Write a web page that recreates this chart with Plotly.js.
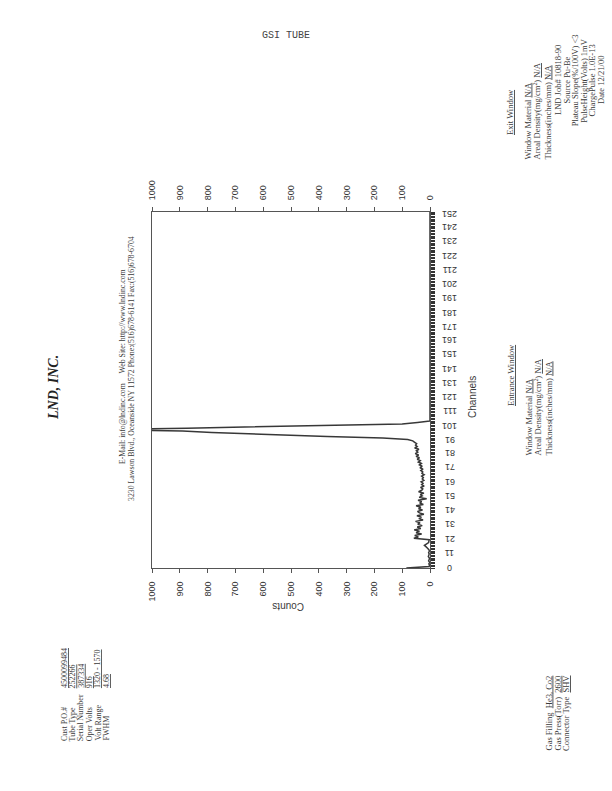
<!DOCTYPE html>
<html>
<head>
<meta charset="utf-8">
<script src="https://cdn.plot.ly/plotly-3.0.1.min.js"></script>
<style>
html,body{margin:0;padding:0;background:#fff;}
#chart{width:612px;height:791px;}
</style>
</head>
<body>
<div id="chart"></div>
<script>
// ---- data (counts per channel) ----
const counts = [
  85,
  3,2,4,1,5,3,2,6,4,3,5,2,4,8,14,20,10,5,4,3,
  58,
  42,55,30,50,38,57,33,46,28,44,
  36,52,25,40,31,47,22,38,45,27,
  41,33,50,24,37,30,43,12,39,28,
  35,22,41,30,26,34,21,30,25,32,
  22,28,24,30,21,29,26,33,25,36,
  28,38,31,42,35,46,38,50,41,53,
  44,49,40,55,46,52,48,55,62,
  80,170,370,520,640,785,890,1200,
  875,637,390,100,45,0,
  0,0,0,0,0,0,0,0,0,0,0,0,0,0,0,0,
  0,0,0,0,0,0,0,0,0,0,0,0,0,0,0,0,
  0,0,0,0,0,0,0,0,0,0,0,0,0,0,0,0,
  0,0,0,0,0,0,0,0,0,0,0,0,0,0,0,0,
  0,0,0,0,0,0,0,0,0,0,0,0,0,0,0,0,
  0,0,0,0,0,0,0,0,0,0,0,0,0,0,0,0,
  0,0,0,0,0,0,0,0,0,0,0,0,0,0,0,0,
  0,0,0,0,0,0,0,0,0,0,0,0,0,0,0,0,
  0,0,0,0,0,0,0,0,0,0,0,0,0,0,0,0,
  0,0,0,0,0,0,0
];
const channels = counts.map((_, i) => i);

const channelTickLabels = ['0','11','21','31','41','51','61','71','81','91','101','111','121','131','141','151','161','171','181','191','201','211','221','231','241','251'];
const countTickValues = [0,100,200,300,400,500,600,700,800,900,1000];

const titleText = 'LND, INC.';
const contactLines = [
  'E-Mail: info@lndinc.com&nbsp;&nbsp;&nbsp;&nbsp;&nbsp;Web Site: http://www.lndinc.com',
  '3230 Lawson Blvd., Oceanside NY 11572 Phone:(516)678-6141 Fax:(516)678-6704'
];
const custLabels = ['Cust P.O.#','Tube Type','Serial Number','Oper Volts','Volt Range','FWHM'];
const custValues = ['4500099484','252266','387334','916','1320 - 1570','4.68'];
const gasLabels = ['Gas Filling','Gas Press(Torr)','Connector Type'];
const gasValues = ['He3, Co2','2600','SHV'];
const windowLabels = ['Window Material','Areal Density(mg/cm<sup>2</sup>)','Thickness(inches/mm)'];
const entranceValues = ['N/A','N/A','N/A'];
const exitValues = ['N/A','N/A','N/A'];
const jobLines = ['LND Job# 10818-90','Source Pu-Be','Plateau Slope(%/100V) <3','PulseHeight(Volts) 1mV','ChargePulse 1.0E-13','Date 12/21/00'];

// ---- layout helpers (pixel -> paper) ----
const L = 152, R = 430, T = 212, B = 568;
const px = x => (x - L) / (R - L);
const py = y => (B - y) / (B - T);
const serif = 'Liberation Serif, Times New Roman, serif';
const sans = 'Liberation Sans, Arial, sans-serif';
const ink = '#3a3a3a';
const U = s => '<span style="text-decoration:underline">' + s + '</span>';

function note(text, x, y, o) {
  o = o || {};
  return {
    text: text, xref: 'paper', yref: 'paper', x: px(x), y: py(y),
    showarrow: false, textangle: o.angle !== undefined ? o.angle : -90,
    xanchor: o.xa || 'center', yanchor: o.ya || 'middle',
    font: {family: o.family || serif, size: o.size || 8.5, color: o.color || ink}
  };
}

const ann = [];
ann.push(note('GSI TUBE', 286, 36, {angle: 0, family: 'Liberation Mono, Courier New, monospace', size: 10, color: '#444'}));
ann.push(note('<b><i>' + titleText + '</i></b>', 53, 388, {size: 14, color: '#222'}));
ann.push(note(contactLines[0], 122, 367, {size: 7.8}));
ann.push(note(contactLines[1], 131, 369, {size: 7.8}));
custLabels.forEach((t, i) => {
  const x = 64 + i * 8.4;
  ann.push(note(t, x, 743, {ya: 'bottom', size: 8}));
  ann.push(note(U(custValues[i]), x, 690, {ya: 'bottom', size: 8}));
});
gasLabels.forEach((t, i) => {
  ann.push(note(t + '&nbsp;&nbsp;' + U(gasValues[i]), 548 + i * 9, 753, {ya: 'bottom'}));
});
ann.push(note(U('Entrance Window'), 511, 375));
windowLabels.forEach((t, i) => {
  ann.push(note(t + ' ' + U(entranceValues[i]), 528 + i * 10, 458, {ya: 'bottom'}));
});
ann.push(note(U('Exit Window'), 510, 112));
windowLabels.forEach((t, i) => {
  ann.push(note(t + ' ' + U(exitValues[i]), 527 + i * 10, 162, {ya: 'bottom'}));
});
jobLines.forEach((t, i) => {
  ann.push(note(t, 558 + i * 8.6, 80));
});
ann.push(note('Counts', 288, 607, {angle: 180, family: sans, size: 10}));
ann.push(note('Channels', 472, 397, {family: sans, size: 10}));

// channel tick labels (printed upside down on the scan), placed on the channel scale
channelTickLabels.forEach(t => {
  ann.push({
    text: t, xref: 'paper', yref: 'y', x: px(450), y: Number(t),
    showarrow: false, textangle: 180, xanchor: 'center', yanchor: 'middle',
    font: {family: sans, size: 9, color: '#333'}
  });
});

const tickFont = {family: sans, size: 9, color: '#333'};
const axisLine = '#555';

const traces = [
  {x: counts, y: channels, type: 'scatter', mode: 'lines',
   line: {color: '#383838', width: 1.5}, hoverinfo: 'skip', showlegend: false},
  {x: counts, y: channels, xaxis: 'x2', type: 'scatter', mode: 'lines',
   line: {color: 'rgba(0,0,0,0)', width: 0}, hoverinfo: 'skip', showlegend: false}
];

const countAxis = {
  range: [1000, 0], tickmode: 'array', tickvals: countTickValues,
  tickangle: -90, ticks: 'outside', ticklen: 4, tickcolor: axisLine,
  showline: true, linecolor: axisLine, linewidth: 1,
  showgrid: false, zeroline: false, tickfont: tickFont, ticklabelstandoff: 5
};

const layout = {
  width: 612, height: 791,
  margin: {l: L, r: 612 - R, t: T, b: 791 - B, pad: 0},
  paper_bgcolor: '#fff', plot_bgcolor: '#fff',
  showlegend: false,
  xaxis: Object.assign({}, countAxis, {side: 'bottom', mirror: true, anchor: 'y'}),
  xaxis2: Object.assign({}, countAxis, {side: 'top', overlaying: 'x', anchor: 'y'}),
  yaxis: {
    range: [0, 252], side: 'right', tickmode: 'linear', tick0: 0, dtick: 1,
    showticklabels: false, ticks: 'outside', ticklen: 4, tickwidth: 1, tickcolor: '#333',
    showline: true, mirror: true,
    linecolor: axisLine, linewidth: 1, showgrid: false, zeroline: false
  },
  annotations: ann
};

Plotly.newPlot('chart', traces, layout, {staticPlot: true, displayModeBar: false});
</script>
</body>
</html>
